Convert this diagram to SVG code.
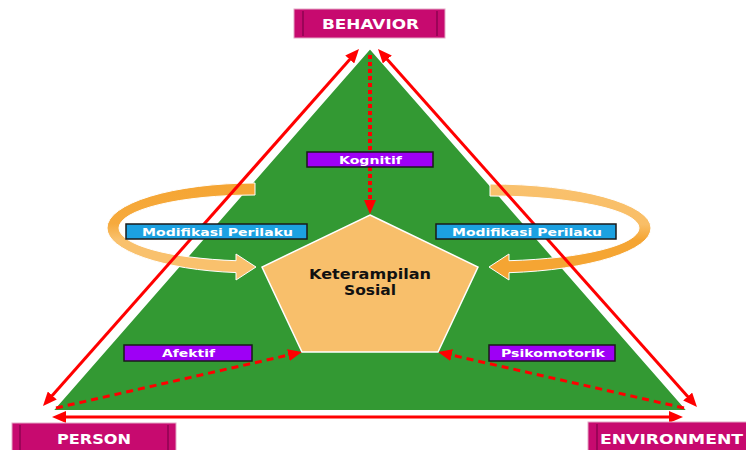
<svg xmlns="http://www.w3.org/2000/svg" width="746" height="450" viewBox="0 0 746 450">
<defs>
<style>
.lbl{font-family:"DejaVu Sans","Liberation Sans",sans-serif;font-weight:bold;fill:#fff;text-anchor:middle}
.mag{fill:#C70A6F;stroke:#E3A7C6;stroke-width:1}
.magin{stroke:#8E0350;stroke-width:1.5}
.blue{fill:#1CA1E1;stroke:#1a1a1a;stroke-width:1.5}
.purp{fill:#9E00F5;stroke:#1a1a1a;stroke-width:1.5}
.solid{stroke:#FF0000;stroke-width:3;fill:none}
.dash{stroke:#FF0000;stroke-width:3;fill:none;stroke-dasharray:7 5}
.dot{stroke:#FF0000;stroke-width:4;fill:none;stroke-dasharray:4 3}
</style>
<marker id="ah" viewBox="0 0 14 12" refX="2" refY="6" markerWidth="14" markerHeight="12" markerUnits="userSpaceOnUse" orient="auto-start-reverse">
<path d="M0,0 L14,6 L0,12 z" fill="#FF0000"/>
</marker>
<linearGradient id="gL" x1="0" y1="0" x2="0" y2="1">
<stop offset="0" stop-color="#F5A533"/>
<stop offset="0.42" stop-color="#F6AA3D"/>
<stop offset="0.58" stop-color="#F9C16D"/>
<stop offset="1" stop-color="#F9C16D"/>
</linearGradient>
<linearGradient id="gR" x1="0" y1="0" x2="0" y2="1">
<stop offset="0" stop-color="#F9C16D"/>
<stop offset="0.42" stop-color="#F9BE66"/>
<stop offset="0.58" stop-color="#F5A533"/>
<stop offset="1" stop-color="#F5A533"/>
</linearGradient>
</defs>
<rect width="746" height="450" fill="#fff"/>

<g id="triangle">
<polygon points="370,48 52,411 688,411" fill="#339933" stroke="#fff" stroke-width="2"/>
</g>

<g id="ring-left">
<path d="M255,183 A148,45 0 0,0 107,228 A148,45 0 0,0 236,272.6 L236,280 L256,267 L236,254 L236,260.7 A136,33 0 0,1 119,228 A136,33 0 0,1 255,195 Z" fill="url(#gL)" stroke="#fff" stroke-width="1"/>
</g>
<g id="ring-right">
<path d="M490,184 A161,44 0 0,1 651,228 A161,45 0 0,1 509,272.7 L509,280 L489,267 L509,254 L509,260.7 A149,33 0 0,0 639,228 A149,32 0 0,0 490,196 Z" fill="url(#gR)" stroke="#fff" stroke-width="1"/>
</g>

<g id="connectors">
<line class="solid" x1="351.05" y1="57.99" x2="50.95" y2="397" marker-start="url(#ah)" marker-end="url(#ah)"/>
<line class="solid" x1="385.98" y1="57.96" x2="689.02" y2="398.04" marker-start="url(#ah)" marker-end="url(#ah)"/>
<line class="solid" x1="64" y1="417" x2="671" y2="417" marker-start="url(#ah)" marker-end="url(#ah)"/>
<line class="dot" x1="370" y1="55" x2="370" y2="202" marker-end="url(#ah)"/>
<line class="dash" x1="56" y1="408" x2="290.3" y2="354.66" marker-end="url(#ah)"/>
<line class="dash" x1="684" y1="408" x2="449.7" y2="354.66" marker-end="url(#ah)"/>
</g>

<g id="pentagon">
<polygon points="370,215 478,267 438,352 302,352 262,267" fill="#F8BF6B" stroke="#fff" stroke-width="1.5"/>
<text x="370" y="279" font-family="DejaVu Sans,Liberation Sans,sans-serif" font-weight="bold" font-size="13.5" fill="#111" text-anchor="middle" textLength="122" lengthAdjust="spacingAndGlyphs">Keterampilan</text>
<text x="370" y="295" font-family="DejaVu Sans,Liberation Sans,sans-serif" font-weight="bold" font-size="13.5" fill="#111" text-anchor="middle" textLength="52" lengthAdjust="spacingAndGlyphs">Sosial</text>
</g>

<g id="behavior">
<rect class="mag" x="294" y="9" width="151" height="29"/>
<line class="magin" x1="303" y1="11" x2="303" y2="36"/>
<line class="magin" x1="437" y1="11" x2="437" y2="36"/>
<text class="lbl" x="370.5" y="28.5" font-size="13.5" textLength="97" lengthAdjust="spacingAndGlyphs">BEHAVIOR</text>
</g>
<g id="person">
<rect class="mag" x="12" y="423" width="164" height="30"/>
<line class="magin" x1="20" y1="425" x2="20" y2="450"/>
<line class="magin" x1="168" y1="425" x2="168" y2="450"/>
<text class="lbl" x="94" y="443.5" font-size="13.5" textLength="74" lengthAdjust="spacingAndGlyphs">PERSON</text>
</g>
<g id="environment">
<rect class="mag" x="588" y="422" width="164" height="31"/>
<line class="magin" x1="597" y1="424" x2="597" y2="450"/>
<text class="lbl" x="671.5" y="443.5" font-size="13.5" textLength="143" lengthAdjust="spacingAndGlyphs">ENVIRONMENT</text>
</g>

<g id="kognitif">
<rect class="purp" x="307" y="152" width="126" height="15"/>
<text class="lbl" x="370.5" y="163.5" font-size="11" textLength="63" lengthAdjust="spacingAndGlyphs">Kognitif</text>
</g>
<g id="modifikasi-left">
<rect class="blue" x="126" y="224" width="181" height="15"/>
<text class="lbl" x="217.5" y="235.5" font-size="11" textLength="151" lengthAdjust="spacingAndGlyphs">Modifikasi Perilaku</text>
</g>
<g id="modifikasi-right">
<rect class="blue" x="436" y="224" width="180" height="15"/>
<text class="lbl" x="527" y="235.5" font-size="11" textLength="150" lengthAdjust="spacingAndGlyphs">Modifikasi Perilaku</text>
</g>
<g id="afektif">
<rect class="purp" x="124" y="345" width="128" height="16"/>
<text class="lbl" x="188.5" y="357" font-size="11" textLength="53" lengthAdjust="spacingAndGlyphs">Afektif</text>
</g>
<g id="psikomotorik">
<rect class="purp" x="489" y="345" width="126" height="16"/>
<text class="lbl" x="553" y="357" font-size="11" textLength="104" lengthAdjust="spacingAndGlyphs">Psikomotorik</text>
</g>
</svg>
